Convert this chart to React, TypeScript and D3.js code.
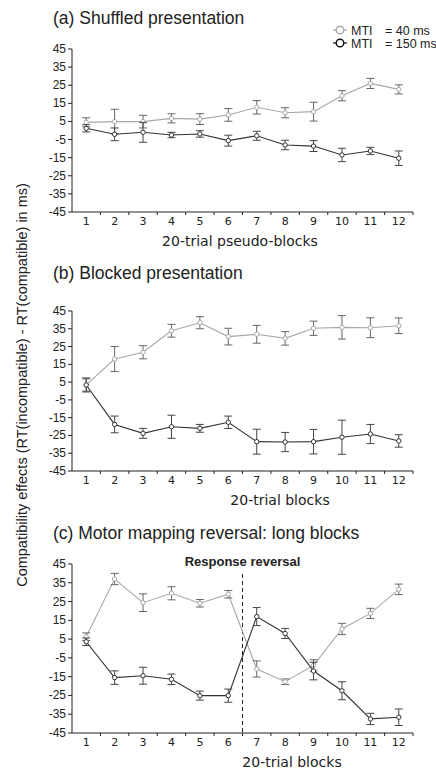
import { useMemo } from 'react';
import { scaleBand, scaleLinear, line } from 'd3';

// blocks 1..12
const blocks = ['1', '2', '3', '4', '5', '6', '7', '8', '9', '10', '11', '12'];
const yTicks = [45, 35, 25, 15, 5, -5, -15, -25, -35, -45];

// (a) shuffled presentation
const shuffled40 = [4.5, 4.9, 4.9, 6.7, 6.3, 8.6, 12.8, 9.8, 10.4, 19.2, 26, 22.7];
const shuffled40Err = [2.5, 6.8, 3.5, 2.5, 3, 3.5, 3.7, 2.8, 5.2, 2.8, 2.8, 2.5];
const shuffled150 = [1.2, -2.1, -1, -2.5, -1.9, -5.6, -2.9, -8, -8.6, -13.5, -11.3, -15.3];
const shuffled150Err = [2, 3.5, 5.5, 1.5, 1.8, 3, 2.5, 2.6, 3, 3.7, 2, 4];

// (b) blocked presentation
const blocked40 = [3.4, 18, 21.8, 33.9, 38.4, 30.6, 31.9, 29.6, 35.3, 35.8, 35.6, 36.7];
const blocked40Err = [4, 7, 3.7, 3.6, 3.4, 4.7, 5, 3.8, 4, 6.6, 5.6, 4.4];
const blocked150 = [3.4, -18.8, -23.8, -20.1, -21, -17.6, -28.5, -28.7, -28.5, -26, -24.2, -28.1];
const blocked150Err = [3.5, 4.7, 2.8, 6.5, 2.2, 3.5, 7, 5.4, 6.9, 9.6, 5.4, 3.5];

// (c) motor mapping reversal
const reversal40 = [6.3, 37, 24.4, 29.4, 24.1, 28.9, -10.9, -17.7, -9, 10.4, 18.7, 31.5];
const reversal40Err = [2, 3, 4.7, 3.5, 2, 2, 4.3, 1.5, 3, 3, 2.7, 2.8];
const reversal150 = [3.6, -15.5, -14.5, -16.4, -25.1, -25.1, 17, 8, -12, -22.5, -37.5, -36.6];
const reversal150Err = [2, 3.6, 4.5, 2.8, 2.4, 3.5, 4.8, 2.7, 4.7, 4.8, 3, 4.4];

const LIGHT = '#a8a8a8';
const DARK = '#333';

type Series = { values: number[]; err: number[]; color: string; barColor: string };

type PanelProps = {
  title: string;
  xTitle: string;
  xTitleX: number;
  top: number;
  bottom: number;
  titleY: number;
  series: Series[];
  reversal?: boolean;
};

const X0 = 72;
const X1 = 413;

const Panel = ({ title, xTitle, xTitleX, top, bottom, titleY, series, reversal }: PanelProps) => {
  const x = useMemo(() => scaleBand<string>().domain(blocks).range([X0, X1]).padding(0), []);
  const y = useMemo(() => scaleLinear().domain([-45, 45]).range([bottom, top]), [top, bottom]);
  const cx = (i: number) => (x(blocks[i]) as number) + x.bandwidth() / 2;
  const path = line<number>()
    .x((_, i) => cx(i))
    .y((d) => y(d));
  const boundaries = blocks.map((b) => (x(b) as number) + x.bandwidth());
  const divider = boundaries[5];

  return (
    <g>
      <text x={53} y={titleY} fontFamily="Liberation Sans, Arial" fontSize={17.5} fill="#222">
        {title}
      </text>
      {/* y axis */}
      <line x1={X0} x2={X0} y1={top} y2={bottom} stroke="#222" />
      {yTicks.map((t) => (
        <g key={t}>
          <line x1={X0 - 4} x2={X0} y1={y(t)} y2={y(t)} stroke="#222" />
          <text
            x={X0 - 6}
            y={y(t) + 4}
            textAnchor="end"
            fontFamily="Liberation Sans, Arial"
            fontSize={12}
            fill="#222"
          >
            {t}
          </text>
        </g>
      ))}
      {/* x axis */}
      <line x1={X0} x2={X1} y1={bottom} y2={bottom} stroke="#222" />
      {boundaries.map((b) => (
        <line key={b} x1={b} x2={b} y1={bottom} y2={bottom + 3} stroke="#222" />
      ))}
      {blocks.map((b, i) => (
        <text
          key={b}
          x={cx(i)}
          y={bottom + 13}
          textAnchor="middle"
          fontFamily="DejaVu Sans, Verdana"
          fontSize={11}
          fill="#222"
        >
          {b}
        </text>
      ))}
      <text
        x={xTitleX}
        y={bottom + 34}
        textAnchor="middle"
        fontFamily="DejaVu Sans, Verdana"
        fontSize={14}
        fill="#222"
      >
        {xTitle}
      </text>
      {reversal && (
        <g>
          <line x1={divider} x2={divider} y1={top + 10} y2={bottom} stroke="#222" strokeDasharray="4,3" />
          <text
            x={divider}
            y={top + 2}
            textAnchor="middle"
            fontFamily="Liberation Sans, Arial"
            fontWeight="bold"
            fontSize={13}
            fill="#222"
          >
            Response reversal
          </text>
        </g>
      )}
      {series.map((s, si) => (
        <g key={si}>
          <path d={path(s.values) ?? ''} fill="none" stroke={s.color} strokeWidth={1.1} />
          {s.values.map((v, i) => (
            <g key={i} stroke={s.barColor} strokeWidth={1}>
              <line x1={cx(i)} x2={cx(i)} y1={y(v + s.err[i])} y2={y(v - s.err[i])} />
              <line x1={cx(i) - 4} x2={cx(i) + 4} y1={y(v + s.err[i])} y2={y(v + s.err[i])} />
              <line x1={cx(i) - 4} x2={cx(i) + 4} y1={y(v - s.err[i])} y2={y(v - s.err[i])} />
            </g>
          ))}
          {s.values.map((v, i) => (
            <circle key={i} cx={cx(i)} cy={y(v)} r={2.2} fill="#fff" stroke={s.color} strokeWidth={1} />
          ))}
        </g>
      ))}
    </g>
  );
};

const Legend = () => {
  const items = [
    { color: LIGHT, label: '= 40 ms', y: 30 },
    { color: '#111', label: '= 150 ms', y: 43 },
  ];
  return (
    <g fontFamily="Liberation Sans, Arial" fontSize={12.5} fill="#222">
      {items.map((it) => (
        <g key={it.label}>
          <line x1={333} x2={347} y1={it.y} y2={it.y} stroke={it.color} strokeWidth={1.2} />
          <circle cx={340} cy={it.y} r={3.8} fill="#fff" stroke={it.color} strokeWidth={1.4} />
          <text x={351} y={it.y + 4.5}>MTI</text>
          <text x={385} y={it.y + 4.5}>{it.label}</text>
        </g>
      ))}
    </g>
  );
};

export default function App() {
  return (
    <svg
      width={436}
      height={773}
      style={{ position: 'absolute', left: 0, top: 0, background: '#fff' }}
    >
      <rect width={436} height={773} fill="#fff" />
      <text
        transform="translate(27,385) rotate(-90)"
        textAnchor="middle"
        fontFamily="Liberation Sans, Arial"
        fontSize={14.5}
        fill="#222"
      >
        Compatibility effects (RT(incompatible) - RT(compatible) in ms)
      </text>
      <Legend />
      <Panel
        title="(a) Shuffled presentation"
        xTitle="20-trial pseudo-blocks"
        xTitleX={240}
        top={49}
        bottom={212}
        titleY={24}
        series={[
          { values: shuffled40, err: shuffled40Err, color: LIGHT, barColor: '#666' },
          { values: shuffled150, err: shuffled150Err, color: DARK, barColor: '#444' },
        ]}
      />
      <Panel
        title="(b) Blocked presentation"
        xTitle="20-trial blocks"
        xTitleX={280}
        top={311}
        bottom={471}
        titleY={279}
        series={[
          { values: blocked40, err: blocked40Err, color: LIGHT, barColor: '#666' },
          { values: blocked150, err: blocked150Err, color: DARK, barColor: '#444' },
        ]}
      />
      <Panel
        title="(c) Motor mapping reversal: long blocks"
        xTitle="20-trial blocks"
        xTitleX={292}
        top={564}
        bottom={733}
        titleY={539}
        reversal
        series={[
          { values: reversal40, err: reversal40Err, color: LIGHT, barColor: '#666' },
          { values: reversal150, err: reversal150Err, color: DARK, barColor: '#444' },
        ]}
      />
    </svg>
  );
}
